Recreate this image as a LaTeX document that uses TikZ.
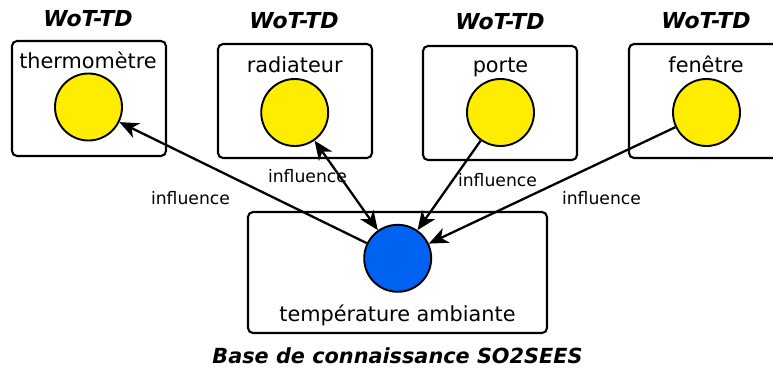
\documentclass[tikz,border=0pt]{standalone}
\usepackage{fontspec}
\setmainfont{DejaVu Sans}[ItalicFont={DejaVu Sans Oblique},BoldFont={DejaVu Sans Bold},BoldItalicFont={DejaVu Sans Bold Oblique}]
\usetikzlibrary{arrows.meta}
\definecolor{dotyellow}{RGB}{255,237,0}
\definecolor{dotblue}{RGB}{0,98,240}
\begin{document}
\begin{tikzpicture}[x=1pt,y=-1pt,
  thingbox/.style={draw,line width=2.1pt,rounded corners=5pt,inner sep=0pt},
  ydot/.style={circle,draw,line width=1.9pt,fill=dotyellow,minimum size=67pt,inner sep=0pt},
  bdot/.style={circle,draw,line width=1.9pt,fill=dotblue,minimum size=67pt,inner sep=0pt},
  lbl/.style={anchor=base,inner sep=0pt,font=\fontsize{20.8}{24}\selectfont},
  ttl/.style={anchor=base,inner sep=0pt,font=\fontsize{22}{26}\selectfont\bfseries\itshape},
  inf/.style={anchor=base,inner sep=0pt,font=\fontsize{17.2}{20}\selectfont},
  arrowtip/.tip={Stealth[length=19pt,width=16pt,inset=5.5pt]},
  conn/.style={line width=2.3pt,-arrowtip},
  biconn/.style={line width=2.3pt,arrowtip-arrowtip}]
\useasboundingbox (0,0) rectangle (773,370);
\begin{scope}
\clip (0,0) rectangle (773,370);
% boxes
\node[thingbox,minimum width=154pt,minimum height=115pt] (b1) at (89,98.5) {};
\node[thingbox,minimum width=154pt,minimum height=114pt] (b2) at (295,101) {};
\node[thingbox,minimum width=154pt,minimum height=114pt] (b3) at (500,103) {};
\node[thingbox,minimum width=154pt,minimum height=114pt] (b4) at (706,101) {};
\node[thingbox,minimum width=299pt,minimum height=121pt] (b0) at (397.5,272.5) {};
\end{scope}
% titles
\node[ttl] (t1) at (88,26) {WoT-TD};
\node[ttl] (t2) at (294,28) {WoT-TD};
\node[ttl] (t3) at (500,29) {WoT-TD};
\node[ttl] (t4) at (706,28) {WoT-TD};
\node[ttl,font=\fontsize{20.8}{25}\selectfont\bfseries\itshape] (t0) at (397.5,363) {Base de connaissance SO2SEES};
% labels
\node[lbl] (l1) at (88,68) {thermomètre};
\node[lbl] (l2) at (294.7,72.7) {radiateur};
\node[lbl] (l3) at (500.5,72.7) {porte};
\node[lbl] (l4) at (706,72.3) {fenêtre};
\node[lbl] (l0) at (397.5,321.7) {température ambiante};
% dots
\node[ydot] (c1) at (88.5,107) {};
\node[ydot] (c2) at (294.7,112.5) {};
\node[ydot] (c3) at (500.5,112.5) {};
\node[ydot] (c4) at (706.5,112.5) {};
\node[bdot] (c0) at (397.7,258.3) {};
% connectors
\draw[conn] (c0) -- (c1);
\draw[biconn] (c2) -- (c0);
\draw[conn] (c3) -- (c0);
\draw[conn] (c4) -- (c0);
% connector labels
\node[inf] (i1) at (190.5,204.3) {influence};
\node[inf] (i2) at (307.5,182.7) {influence};
\node[inf] (i3) at (497.5,186.7) {influence};
\node[inf] (i4) at (601.5,204.3) {influence};
\end{tikzpicture}
\end{document}
